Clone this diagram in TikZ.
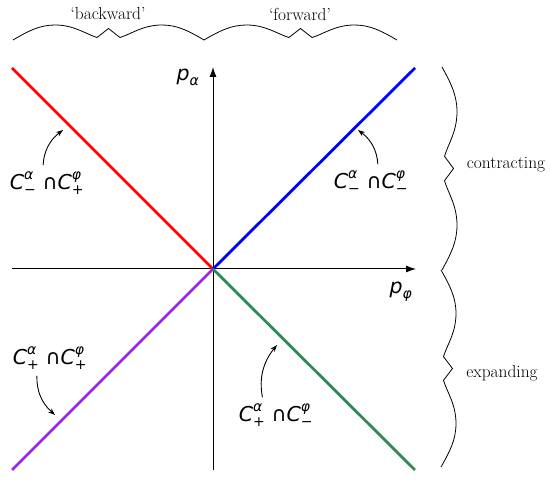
\documentclass[tikz,border=0pt]{standalone}
\usepackage{fontspec}
\usetikzlibrary{arrows.meta, positioning, calc}
\newfontfamily\labfont{DejaVu Sans}
\definecolor{conepurple}{RGB}{160,32,240}
\definecolor{conegreen}{RGB}{46,139,87}
\newcommand{\itsf}[1]{{\labfont\itshape #1}}
\newcommand{\scr}{\fontsize{14}{15}\selectfont}
\newcommand{\cset}[2]{$\hbox{\itsf{C}}^{\hbox{\scr\itsf{#1}}}_{\hbox{\scr\labfont #2}}$}
\newcommand{\capset}[4]{\cset{#1}{#2}\ {\labfont∩}\cset{#3}{#4}}
% one half of a wavy brace, of length #1, bulging to local +y
\newcommand{\halfbrace}[1]{(0,0) .. controls (0.08*#1,9) and (0.14*#1,15) .. (0.22*#1,15)
  .. controls (0.32*#1,15) and (0.38*#1,6) .. (0.44*#1,2.5) -- (0.5*#1,11.5) -- (0.56*#1,2.5)
  .. controls (0.62*#1,6) and (0.68*#1,15) .. (0.78*#1,15)
  .. controls (0.86*#1,15) and (0.92*#1,9) .. (#1,0)}

\begin{document}
\begin{tikzpicture}[x=1pt, y=1pt,
    every node/.style={font=\fontsize{17.4}{21}\selectfont},
    sym/.style={font=\fontsize{20.5}{24}\selectfont},
    axis/.style={line width=1pt, -{Latex[length=10pt, width=7pt]}},
    cone/.style={line width=2.8pt},
    hint/.style={line width=0.9pt, -{Stealth[length=7pt, width=5pt]}, shorten <=3pt},
    wave/.style={line width=0.8pt}]
    \useasboundingbox (0,0) rectangle (550,480);
    \coordinate (O) at (213,211);
    % axes
    \draw[axis] (12,211) coordinate (xl) -- (416,211) coordinate (xr);
    \draw[axis] (213,10) coordinate (yb) -- (213,413) coordinate (yt);
    \node[sym] (palpha) at (188,403) {$\hbox{\itsf{p}}_{\hbox{\scr\itsf{α}}}$};
    \node[sym] (pphi) at (401,188) {$\hbox{\itsf{p}}_{\hbox{\scr\itsf{φ}}}$};
    % branches
    \draw[cone, red] (O) -- (12,412);
    \draw[cone, blue] (O) -- (415,412);
    \draw[cone, conepurple] (O) -- (12,10);
    \draw[cone, conegreen] (O) -- (415,10);
    % labels
    \node[sym] (rlab) at (47,297) {\capset{α}{−}{φ}{+}};
    \node[sym] (blab) at (371,298) {\capset{α}{−}{φ}{−}};
    \node[sym] (plab) at (50,122) {\capset{α}{+}{φ}{+}};
    \node[sym] (glab) at (276,65) {\capset{α}{+}{φ}{−}};
    \coordinate (rtip) at (63,350);
    \coordinate (btip) at (358,350);
    \coordinate (ptip) at (55,65);
    \coordinate (gtip) at (277,135);
    \draw[hint] ([xshift=-4pt]rlab.north) to[bend left=25] (rtip);
    \draw[hint] ([xshift=7pt]blab.north) to[bend right=25] (btip);
    \draw[hint] ([xshift=-13pt]plab.south) to[bend right=25] (ptip);
    \draw[hint] ([xshift=-13pt]glab.north) to[bend left=25] (gtip);
    % braces
    \draw[wave, shift={(13,440)}] \halfbrace{191};
    \draw[wave, shift={(204,440)}] \halfbrace{193};
    \draw[wave, shift={(442,413)}, rotate=-90] \halfbrace{203};
    \draw[wave, shift={(441,210)}, rotate=-90] \halfbrace{197};
    \node (back) at (108,466) {‘backward’};
    \node (fwd) at (300,466) {‘forward’};
    \node (contr) at (506,315) {contracting};
    \node (expand) at (502,107) {expanding};
\end{tikzpicture}
\end{document}
